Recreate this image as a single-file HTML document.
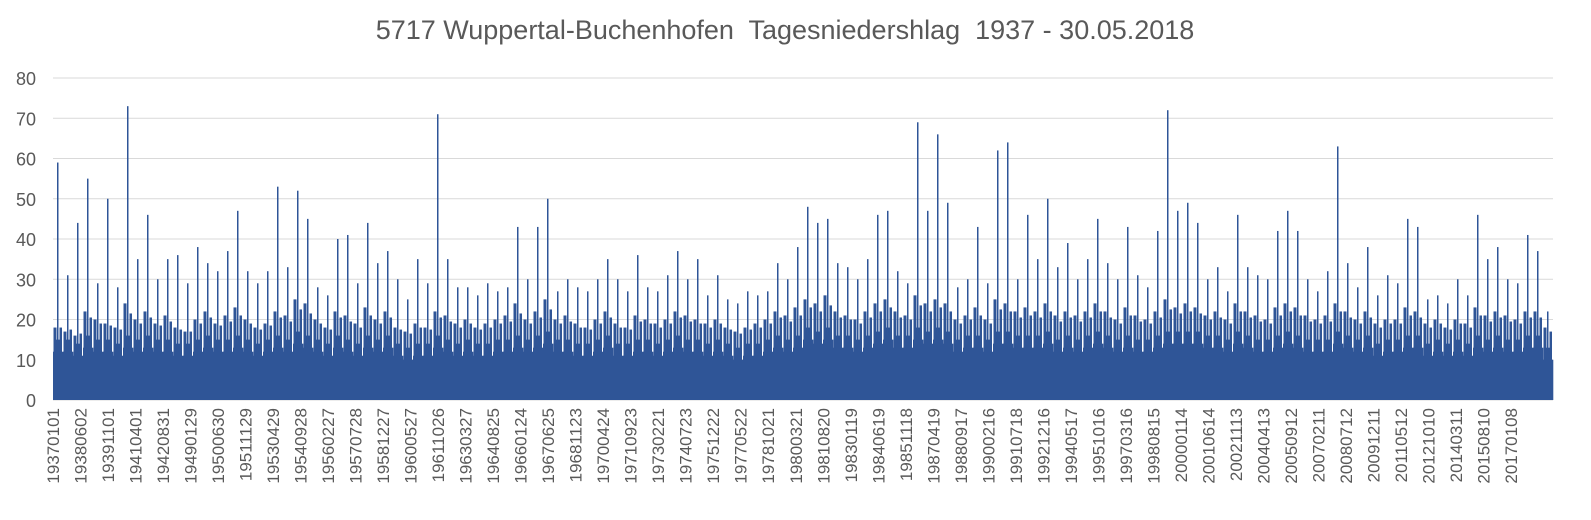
<!DOCTYPE html>
<html><head><meta charset="utf-8"><style>
html,body{margin:0;padding:0;background:#fff;}
svg{display:block;font-family:"Liberation Sans",sans-serif;}
</style></head><body>
<svg id="chart" width="1591" height="520" viewBox="0 0 1591 520" xmlns="http://www.w3.org/2000/svg">
<text x="785" y="39" text-anchor="middle" font-size="27" fill="#595959" xml:space="preserve">5717 Wuppertal-Buchenhofen  Tagesniedershlag  1937 - 30.05.2018</text>
<g id="grid"></g>
<g id="yticks"></g>
<g id="bars"></g>
<g id="xticks"></g>
</svg>
<script>
const xLabels = ["19370101","19380602","19391101","19410401","19420831","19490129","19500630","19511129","19530429","19540928","19560227","19570728","19581227","19600527","19611026","19630327","19640825","19660124","19670625","19681123","19700424","19710923","19730221","19740723","19751222","19770522","19781021","19800321","19810820","19830119","19840619","19851118","19870419","19880917","19900216","19910718","19921216","19940517","19951016","19970316","19980815","20000114","20010614","20021113","20040413","20050912","20070211","20080712","20091211","20110512","20121010","20140311","20150810","20170108"];
const yTicks = [0,10,20,30,40,50,60,70,80];
const peak = [59,31,44,55,29,50,28,73,35,46,30,35,36,29,38,34,32,37,47,32,29,32,53,33,52,45,28,26,40,41,29,44,34,37,30,25,35,29,71,35,28,28,26,29,27,28,43,30,43,50,27,30,28,27,30,35,30,27,36,28,27,31,37,30,35,26,31,25,24,27,26,27,34,30,38,48,44,45,34,33,30,35,46,47,32,29,69,47,66,49,28,30,43,29,62,64,30,46,35,50,33,39,30,35,45,34,30,43,31,28,42,72,47,49,44,30,33,27,46,33,31,30,42,47,42,30,27,32,63,34,28,38,26,31,29,45,43,25,26,24,30,26,46,35,38,30,29,41,37,22];
const mid = [18,17,16,22,20,19,18,24,20,22,19,21,18,17,20,22,19,21,23,20,18,19,22,21,25,24,20,18,22,21,19,23,20,22,18,17,19,18,22,21,19,20,18,19,20,21,24,20,22,25,20,21,19,18,20,22,19,18,21,20,19,20,22,21,20,19,20,18,17,18,19,20,22,21,23,25,24,26,22,21,20,22,24,25,22,21,26,24,25,24,20,21,23,20,25,24,22,23,22,24,21,22,21,22,24,22,20,23,21,20,22,25,23,24,23,21,22,20,24,22,21,20,23,24,23,21,20,21,24,22,20,22,19,20,20,23,22,19,20,18,20,19,23,21,22,21,20,22,22,18];
const base = [12,12,11,13,12,12,11,13,12,13,12,12,11,11,12,13,12,12,13,12,11,12,13,12,14,13,12,11,13,12,11,13,12,13,11,10,11,11,13,12,11,12,11,11,12,12,13,12,13,14,12,12,11,11,12,13,11,11,12,12,11,12,13,12,12,11,12,11,10,11,11,12,13,12,13,15,14,15,13,13,12,13,14,15,13,13,15,14,15,14,12,13,13,12,14,14,13,13,13,14,12,13,12,13,14,13,12,13,12,12,13,14,14,14,14,13,13,12,14,13,12,12,13,14,13,12,12,12,14,13,12,13,11,12,12,13,13,11,12,11,12,11,13,12,13,12,12,13,13,10];

const NS = "http://www.w3.org/2000/svg";
const X0 = 53, X1 = 1553, Y0 = 400, Y80 = 78;
const yScale = v => Y0 - (v / 80) * (Y0 - Y80);
const binW = (X1 - X0) / peak.length;
const xBin = i => X0 + i * binW;
const xLab = i => X0 + i * ((1511 - X0) / (xLabels.length - 1));
const color = "#2F5597";
function mk(tag, attrs, parent){const e=document.createElementNS(NS,tag);for(const k in attrs)e.setAttribute(k,attrs[k]);parent.appendChild(e);return e;}

const grid = document.getElementById('grid'), yt = document.getElementById('yticks');
yTicks.forEach(v => {
  const l = mk('line',{x1:X0,x2:X1,y1:yScale(v),y2:yScale(v),stroke:'#d9d9d9','stroke-width':1},grid);
  
  
  const t = mk('text',{x:36,y:yScale(v)+7,'text-anchor':'end','font-size':18,fill:'#595959'},yt);
  t.textContent = v;
  
  
});

const bars = document.getElementById('bars');
peak.forEach((p, i) => {
  const x = xBin(i);
  const r = mk('rect',{x:x,y:yScale(base[i]),width:binW+0.3,height:Y0-yScale(base[i]),fill:color},bars);
  
  
  const m = mk('rect',{x:x+0.5,y:yScale(mid[i]),width:3,height:Y0-yScale(mid[i]),fill:color},bars);
  
  
  const mv = (mid[i]+base[i])/2+3;
  const m2 = mk('rect',{x:x+6.5,y:yScale(mv),width:2.5,height:Y0-yScale(mv),fill:color},bars);
  
  
  const mv3 = base[i]+3;
  const m3 = mk('rect',{x:x+3.5,y:yScale(mv3),width:3,height:Y0-yScale(mv3),fill:color},bars);
  
  
  const k = mk('rect',{x:x+4,y:yScale(p),width:1.5,height:Y0-yScale(p),fill:color},bars);
  
  
});

const xt = document.getElementById('xticks');
xLabels.forEach((s, i) => {
  const x = xLab(i);
  const t = mk('text',{x:0,y:0,'text-anchor':'end','font-size':17,fill:'#595959',transform:`translate(${x+6},408) rotate(-90)`},xt);
  t.textContent = s;
  
  
});
</script>
</body></html>
